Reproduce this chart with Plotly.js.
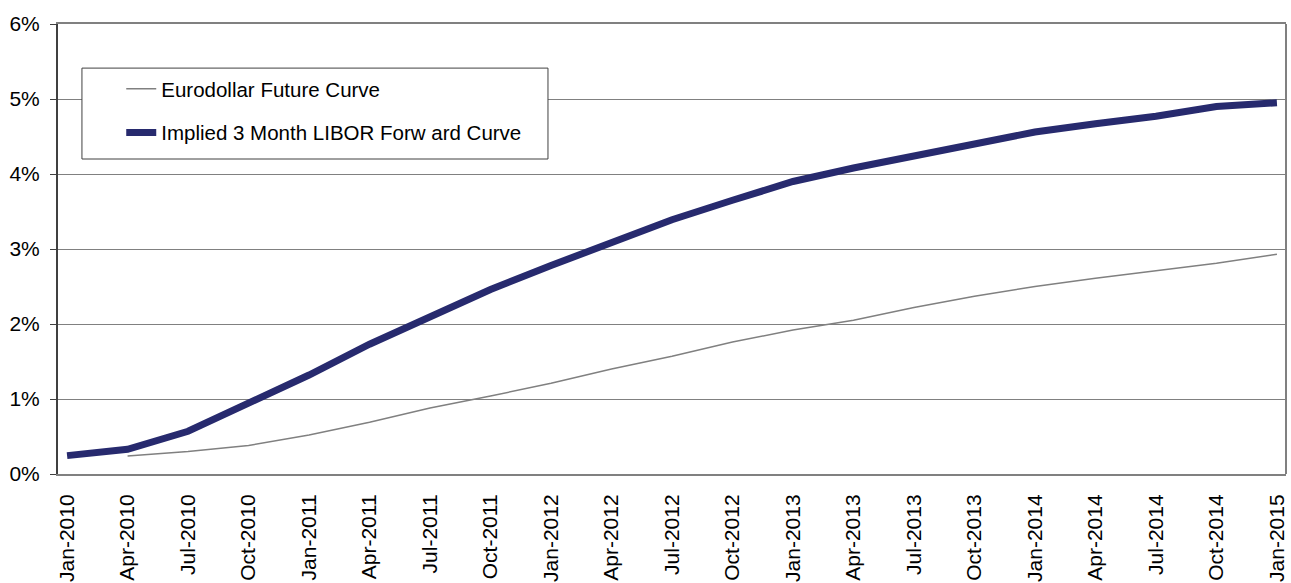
<!DOCTYPE html>
<html>
<head>
<meta charset="utf-8">
<script src="https://cdn.plot.ly/plotly-3.0.1.min.js"></script>
<style>html,body{margin:0;padding:0;background:#fff;}#chart{width:1291px;height:583px;}</style>
</head>
<body>
<div id="chart"></div>
<script>
const months = ["Jan-2010","Apr-2010","Jul-2010","Oct-2010","Jan-2011","Apr-2011","Jul-2011","Oct-2011",
  "Jan-2012","Apr-2012","Jul-2012","Oct-2012","Jan-2013","Apr-2013","Jul-2013","Oct-2013",
  "Jan-2014","Apr-2014","Jul-2014","Oct-2014","Jan-2015"];
const eurodollar = [null,0.24,0.30,0.38,0.52,0.69,0.88,1.04,1.21,1.40,1.57,1.76,1.92,2.05,2.22,2.37,2.50,2.61,2.71,2.81,2.93];
const libor = [0.245,0.33,0.57,0.94,1.32,1.73,2.09,2.46,2.78,3.09,3.39,3.65,3.90,4.08,4.24,4.40,4.56,4.67,4.77,4.90,4.95];
const seriesNames = ["Eurodollar Future Curve","Implied 3 Month LIBOR Forw ard Curve"];

const font = {family: "Liberation Sans, Arial, sans-serif", size: 21, color: "#000"};

const traces = [
  {x: months, y: eurodollar, name: seriesNames[0], type: "scatter", mode: "lines",
   line: {color: "#808080", width: 1.5}, legendgroup: "a", connectgaps: false},
  {x: months, y: libor, name: seriesNames[1], type: "scatter", mode: "lines",
   line: {color: "#272a6e", width: 7}, legendgroup: "b"}
];

const layout = {
  width: 1291, height: 583,
  margin: {l: 58, r: 5, t: 24, b: 109},
  paper_bgcolor: "#fff", plot_bgcolor: "#fff",
  font: font,
  showlegend: true,
  legend: {
    x: 0.0515, y: 0.9, xanchor: "left", yanchor: "top",
    borderwidth: 0, bgcolor: "rgba(0,0,0,0)",
    font: {family: font.family, size: 20.5, color: "#000"},
    traceorder: "grouped", tracegroupgap: 14
  },
  xaxis: {
    type: "category", categoryorder: "array", categoryarray: months,
    range: [-0.15, 20.15],
    tickangle: -90, ticks: "", showgrid: false,
    showline: true, linecolor: "#808080", linewidth: 2, mirror: true,
    tickfont: font, ticklabelstandoff: 10, zeroline: false
  },
  yaxis: {
    range: [0, 6], dtick: 1, tick0: 0, ticksuffix: "%",
    ticks: "outside", ticklen: 6, tickcolor: "#404040",
    showgrid: true, gridcolor: "#808080", gridwidth: 1,
    showline: true, linecolor: "#404040", linewidth: 2,
    tickfont: font, ticklabelstandoff: 6, zeroline: false
  },
  shapes: [
    {type: "line", xref: "paper", yref: "paper", x0: 1, x1: 1, y0: 0, y1: 1,
     line: {color: "#808080", width: 2}},
    {type: "rect", xref: "paper", yref: "paper", x0: 0.0195, x1: 0.399, y0: 0.70, y1: 0.902,
     fillcolor: "#fff", line: {color: "#404040", width: 1}, layer: "above"}
  ]
};

Plotly.newPlot("chart", traces, layout, {displayModeBar: false, staticPlot: true});
</script>
</body>
</html>
